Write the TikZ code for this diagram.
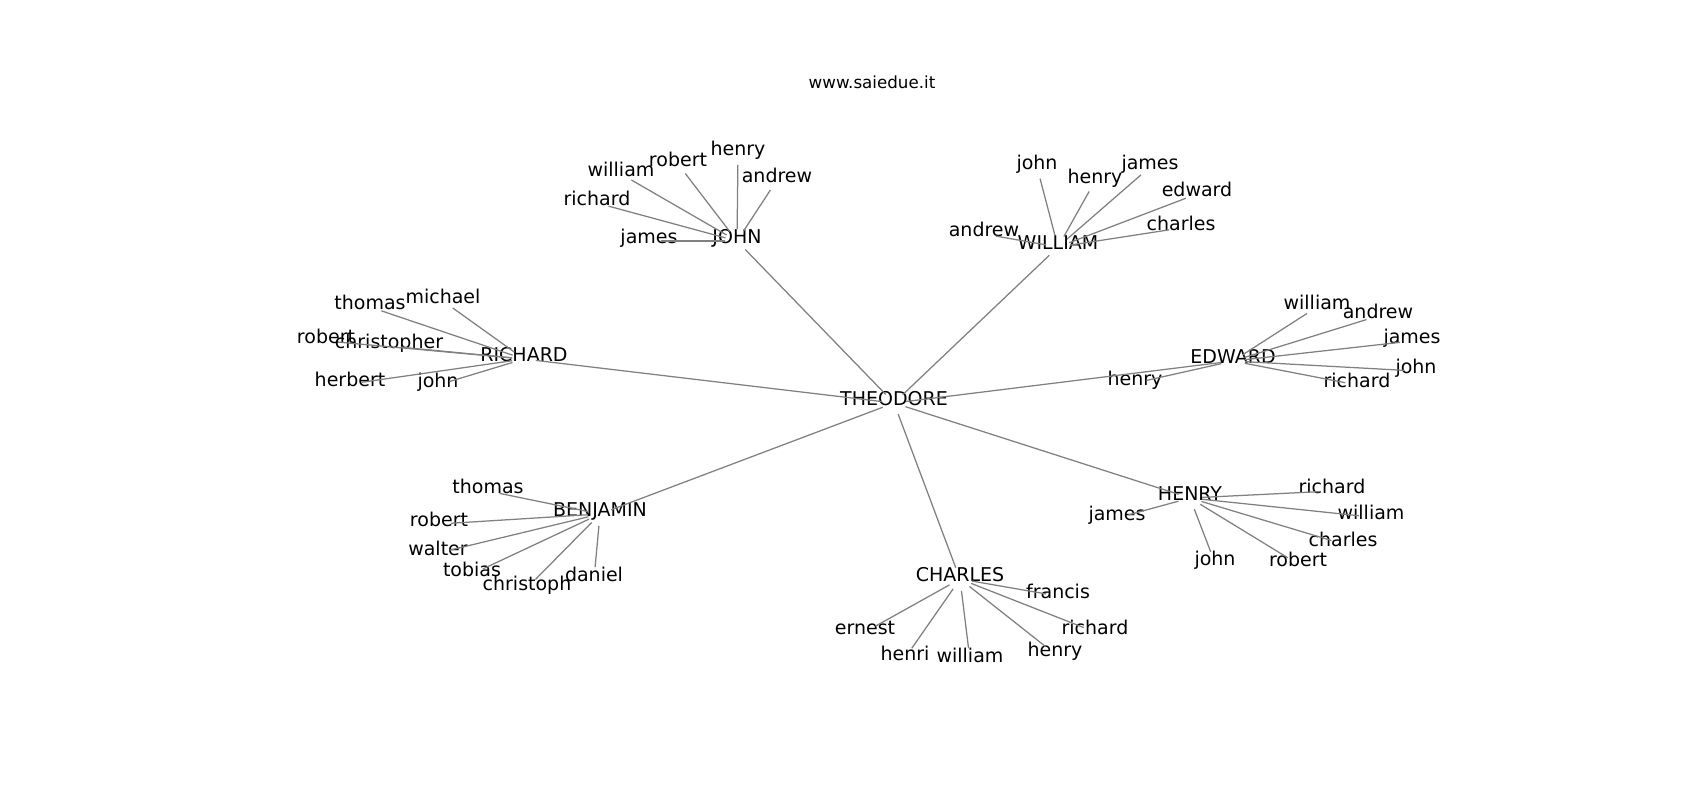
\documentclass[tikz,border=0pt]{standalone}
\usepackage{fontspec}
\setmainfont{DejaVu Sans}
\begin{document}
\begin{tikzpicture}[x=1pt,y=-1pt,
  lbl/.style={font=\fontsize{19}{23}\selectfont, inner sep=0pt, text height=0.76em, text depth=0.24em, anchor=center},
  ttl/.style={font=\fontsize{16.7}{20}\selectfont, inner sep=0pt, anchor=center},
  link/.style={draw=gray, line width=1.25pt, shorten >=12pt, shorten <=12pt}]
\useasboundingbox[fill=white] (0,0) rectangle (1700,800);
\node[ttl] (title) at (872,82) {www.saiedue.it};
\begin{scope}[shift={(0,4)}]
% hubs
\node[lbl] (T) at (894,399) {THEODORE};
\node[lbl] (J) at (737,237) {JOHN};
\node[lbl] (W) at (1058,243) {WILLIAM};
\node[lbl] (R) at (524,355) {RICHARD};
\node[lbl] (E) at (1233,357) {EDWARD};
\node[lbl] (B) at (600,510) {BENJAMIN};
\node[lbl] (C) at (960,575) {CHARLES};
\node[lbl] (H) at (1190,494) {HENRY};
% JOHN leaves
\node[lbl] (J1) at (649,237) {james};
\node[lbl] (J2) at (597,199) {richard};
\node[lbl] (J3) at (621,170) {william};
\node[lbl] (J4) at (678,160) {robert};
\node[lbl] (J5) at (738,149) {henry};
\node[lbl] (J6) at (777,176) {andrew};
% WILLIAM leaves
\node[lbl] (W1) at (1037,163) {john};
\node[lbl] (W2) at (1095,177) {henry};
\node[lbl] (W3) at (1150,163) {james};
\node[lbl] (W4) at (1197,190) {edward};
\node[lbl] (W5) at (1181,224) {charles};
\node[lbl] (W6) at (984,230) {andrew};
% RICHARD leaves
\node[lbl] (R1) at (370,303) {thomas};
\node[lbl] (R2) at (443,297) {michael};
\node[lbl] (R3) at (326,337) {robert};
\node[lbl] (R4) at (389,342) {christopher};
\node[lbl] (R5) at (350,380) {herbert};
\node[lbl] (R6) at (438,381) {john};
% EDWARD leaves
\node[lbl] (E1) at (1317,303) {william};
\node[lbl] (E2) at (1378,312) {andrew};
\node[lbl] (E3) at (1412,337) {james};
\node[lbl] (E4) at (1416,367) {john};
\node[lbl] (E5) at (1357,381) {richard};
\node[lbl] (E6) at (1135,379) {henry};
% BENJAMIN leaves
\node[lbl] (B1) at (488,487) {thomas};
\node[lbl] (B2) at (439,520) {robert};
\node[lbl] (B3) at (438,549) {walter};
\node[lbl] (B4) at (472,570) {tobias};
\node[lbl] (B5) at (527,584) {christoph};
\node[lbl] (B6) at (594,575) {daniel};
% CHARLES leaves
\node[lbl] (C1) at (1058,592) {francis};
\node[lbl] (C2) at (865,628) {ernest};
\node[lbl] (C3) at (1095,628) {richard};
\node[lbl] (C4) at (905,654) {henri};
\node[lbl] (C5) at (970,656) {william};
\node[lbl] (C6) at (1055,650) {henry};
% HENRY leaves
\node[lbl] (H1) at (1332,487) {richard};
\node[lbl] (H2) at (1371,513) {william};
\node[lbl] (H3) at (1343,540) {charles};
\node[lbl] (H4) at (1215,559) {john};
\node[lbl] (H5) at (1298,560) {robert};
\node[lbl] (H6) at (1117,514) {james};
\end{scope}
% edges
\foreach \h in {J,W,R,E,B,C,H}{
  \draw[link] (T.center) -- (\h.center);
  \foreach \i in {1,...,6}{
    \draw[link] (\h.center) -- (\h\i.center);
  }
}
\end{tikzpicture}
\end{document}
